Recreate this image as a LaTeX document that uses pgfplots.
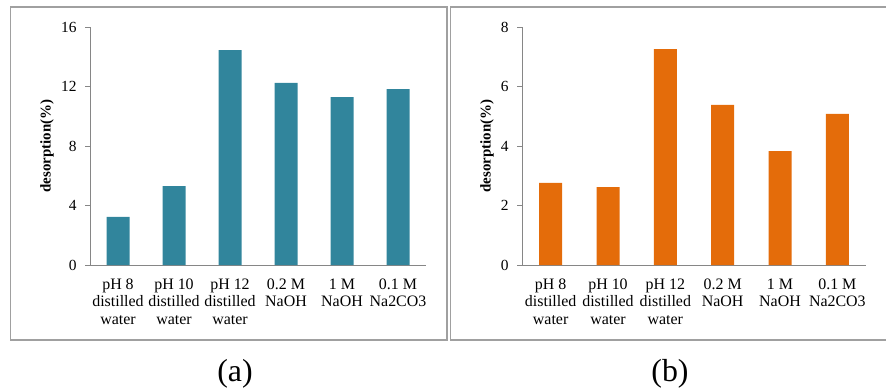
\documentclass[border=0pt]{standalone}
\usepackage{fontspec}
\setmainfont{Liberation Serif}
\usepackage{pgfplots}
\pgfplotsset{compat=1.18}
\definecolor{tealbar}{HTML}{31859C}
\definecolor{orangebar}{HTML}{E46C0A}
\definecolor{axgray}{HTML}{868686}
\definecolor{boxgray}{HTML}{A0A0A0}
\pgfplotsset{
  panel/.style={
    scale only axis, height=238bp,
    ymin=0, xmin=-0.5, xmax=5.5,
    axis lines*=left,
    axis line style={axgray, line width=0.9bp},
    tick align=outside, major tick length=5bp,
    xtick={0,1,2,3,4,5},
    xtick style={draw=none},
    ytick style={axgray, line width=0.9bp},
    xticklabels={{pH 8\\distilled\\water},{pH 10\\distilled\\water},{pH 12\\distilled\\water},{0.2 M\\NaOH},{1 M\\NaOH},{0.1 M\\Na2CO3}},
    xticklabel style={align=center, font=\fontsize{16}{17.7}\selectfont, text depth=0pt, yshift=-5bp},
    yticklabel style={font=\fontsize{15.5}{17}\selectfont, xshift=-5bp},
    /pgf/number format/assume math mode=true,
    ylabel={\textbf{desorption(\%)}},
    ylabel style={font=\fontsize{15}{17}\selectfont, at={(axis description cs:0,0.5)}, anchor=center},
    ybar, bar width=23bp,
  }
}
\begin{document}
\begin{tikzpicture}[x=1bp,y=1bp]
\draw[boxgray, line width=1.3bp] (10.7,51) rectangle (447,384);
\draw[boxgray, line width=1.3bp] (450.5,51) rectangle (890,384);
\begin{axis}[panel, width=336bp, at={(90bp,126bp)}, anchor=south west,
  ymax=16, ytick={0,4,8,12,16}, ylabel style={yshift=43bp}]
\addplot[fill=tealbar, draw=none] coordinates {(0,3.23) (1,5.31) (2,14.45) (3,12.24) (4,11.29) (5,11.83)};
\end{axis}
\begin{axis}[panel, width=344bp, at={(522bp,126bp)}, anchor=south west,
  ymax=8, ytick={0,2,4,6,8}, ylabel style={yshift=35bp}]
\addplot[fill=orangebar, draw=none] coordinates {(0,2.76) (1,2.62) (2,7.26) (3,5.38) (4,3.83) (5,5.08)};
\end{axis}
\node[font=\fontsize{32}{35}\selectfont] at (235,17) {(a)};
\node[font=\fontsize{32}{35}\selectfont] at (670,17) {(b)};
\pgfresetboundingbox
\path (0,0) rectangle (886,391);
\end{tikzpicture}
\end{document}
